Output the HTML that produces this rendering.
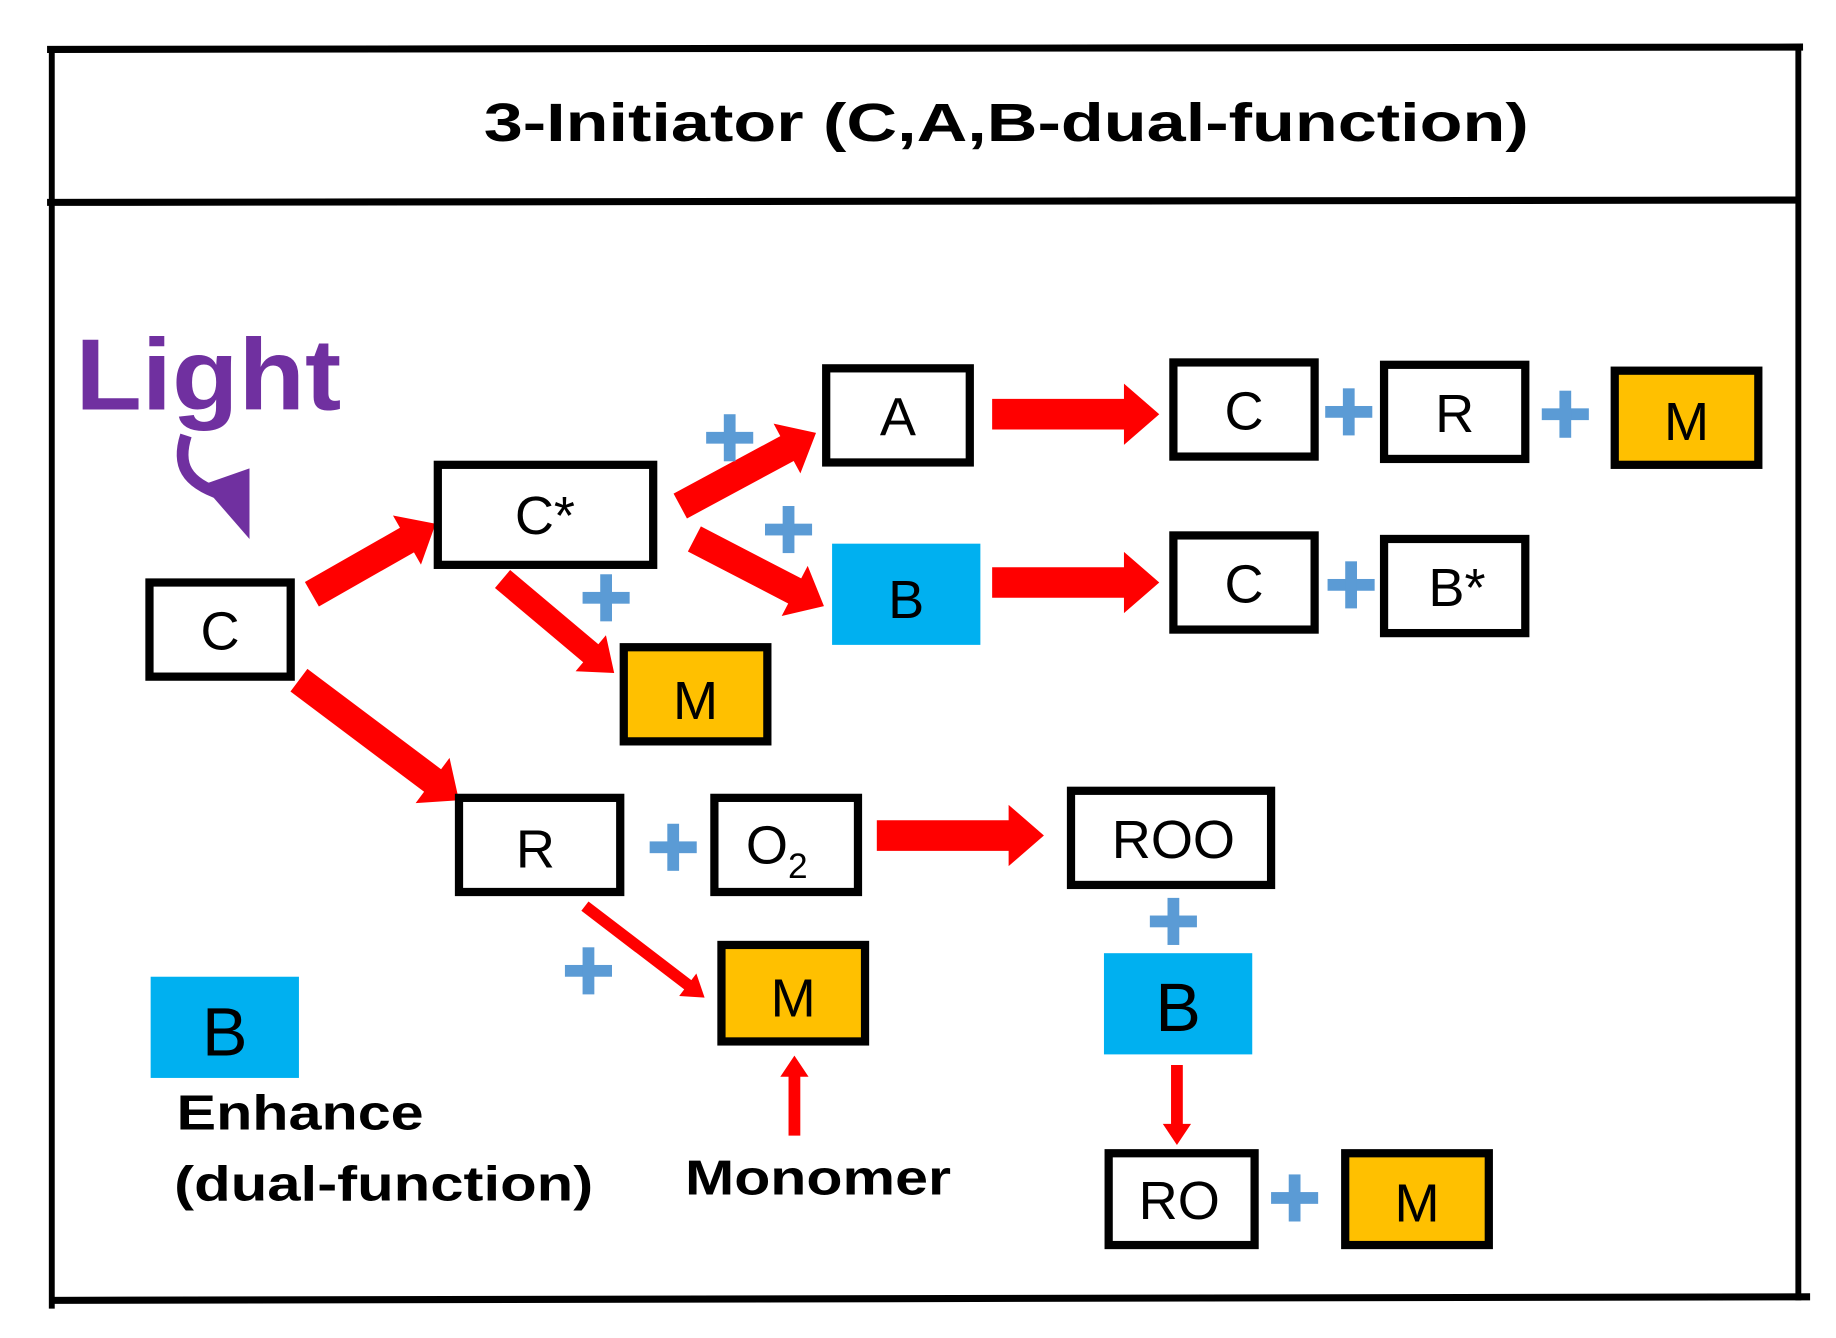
<!DOCTYPE html>
<html><head><meta charset="utf-8"><style>
html,body{margin:0;padding:0;background:#fff;}
svg{display:block;}
text{font-family:"Liberation Sans",sans-serif;}
</style></head><body>
<svg width="1836" height="1338" viewBox="0 0 1560 1137" preserveAspectRatio="none" xmlns="http://www.w3.org/2000/svg">
<defs>
<g id="plus"><rect x="-20" y="-5" width="40" height="10" fill="#5b9bd5"/><rect x="-5" y="-20" width="10" height="40" fill="#5b9bd5"/></g>
</defs>
<g stroke="#000" fill="none">
<line x1="40" y1="42" x2="1532" y2="40" stroke-width="6"/>
<line x1="40" y1="172" x2="1530" y2="170" stroke-width="6"/>
<line x1="44" y1="40" x2="44" y2="1112" stroke-width="5"/>
<line x1="1528" y1="40" x2="1528" y2="1105" stroke-width="5"/>
<line x1="42" y1="1105" x2="1538" y2="1102" stroke-width="6"/>
</g>
<text x="855" y="120" font-size="46" font-weight="bold" text-anchor="middle" textLength="888" lengthAdjust="spacingAndGlyphs">3-Initiator (C,A,B-dual-function)</text>
<text x="64" y="348" font-size="86" font-weight="bold" fill="#7030a0" textLength="226" lengthAdjust="spacingAndGlyphs">Light</text>
<path d="M158 370 C150 395,158 410,188 420" stroke="#7030a0" stroke-width="10" fill="none"/>
<polygon points="172,412 212,398 212,458" fill="#7030a0"/>
<g fill="#f00">
<g transform="translate(843,352)"><polygon points="0,-13 112,-13 112,-26 142,0 112,26 112,13 0,13"/></g>
<g transform="translate(843,495)"><polygon points="0,-13 112,-13 112,-26 142,0 112,26 112,13 0,13"/></g>
<g transform="translate(745,710)"><polygon points="0,-13 112,-13 112,-26 142,0 112,26 112,13 0,13"/></g>
<g transform="translate(265,505) rotate(-29.7)"><polygon points="0,-12 93,-12 93,-24 121,0 93,24 93,12 0,12"/></g>
<g transform="translate(578,430) rotate(-28.3)"><polygon points="0,-12 103,-12 103,-24 131,0 103,24 103,12 0,12"/></g>
<g transform="translate(590,458) rotate(27.4)"><polygon points="0,-12 96,-12 96,-24 124,0 96,24 96,12 0,12"/></g>
<g transform="translate(427,492) rotate(40.1)"><polygon points="0,-10 98,-10 98,-20 124,0 98,20 98,10 0,10"/></g>
<g transform="translate(254,578) rotate(36.9)"><polygon points="0,-12 142,-12 142,-24 170,0 142,24 142,12 0,12"/></g>
<g transform="translate(497,770) rotate(37.4)"><polygon points="0,-5 110,-5 110,-12 128,0 110,12 110,5 0,5"/></g>
<g transform="translate(675,965) rotate(-90)"><polygon points="0,-5 50,-5 50,-12 68,0 50,12 50,5 0,5"/></g>
<g transform="translate(1000,905) rotate(90)"><polygon points="0,-5 50,-5 50,-12 68,0 50,12 50,5 0,5"/></g>
</g>
<g stroke="#000" stroke-width="7" fill="#fff">
<rect x="127" y="495" width="120" height="80"/>
<rect x="372" y="395" width="183" height="85"/>
<rect x="702" y="313" width="122" height="80"/>
<rect x="997" y="308" width="120" height="80"/>
<rect x="1176" y="310" width="120" height="80"/>
<rect x="1372" y="315" width="122" height="80" fill="#ffc000"/>
<rect x="997" y="455" width="120" height="80"/>
<rect x="1176" y="458" width="120" height="80"/>
<rect x="530" y="550" width="122" height="80" fill="#ffc000"/>
<rect x="390" y="678" width="137" height="80"/>
<rect x="607" y="678" width="122" height="80"/>
<rect x="910" y="672" width="170" height="80"/>
<rect x="613" y="803" width="122" height="82" fill="#ffc000"/>
<rect x="942" y="980" width="124" height="78"/>
<rect x="1143" y="980" width="122" height="78" fill="#ffc000"/>
</g>
<g fill="#00b0f0">
<rect x="707" y="462" width="126" height="86"/>
<rect x="938" y="810" width="126" height="86"/>
<rect x="128" y="830" width="126" height="86"/>
</g>
<g font-size="46" text-anchor="middle" fill="#000">
<text x="187" y="552">C</text>
<text x="463" y="454">C*</text>
<text x="763" y="370">A</text>
<text x="1057" y="365">C</text>
<text x="1236" y="367">R</text>
<text x="1433" y="374">M</text>
<text x="770" y="525">B</text>
<text x="1057" y="512">C</text>
<text x="1238" y="515">B*</text>
<text x="591" y="611">M</text>
<text x="455" y="737">R</text>
<text x="660" y="734">O<tspan font-size="30" dy="12">2</tspan></text>
<text x="997" y="729">ROO</text>
<text x="674" y="864">M</text>
<text x="1001" y="876" font-size="58">B</text>
<text x="191" y="897" font-size="58">B</text>
<text x="1002" y="1036">RO</text>
<text x="1204" y="1038">M</text>
</g>
<text x="150" y="960" font-size="42" font-weight="bold" textLength="210" lengthAdjust="spacingAndGlyphs">Enhance</text>
<text x="148" y="1020" font-size="42" font-weight="bold" textLength="356" lengthAdjust="spacingAndGlyphs">(dual-function)</text>
<text x="582" y="1015" font-size="42" font-weight="bold" textLength="226" lengthAdjust="spacingAndGlyphs">Monomer</text>
<use href="#plus" x="620" y="372"/>
<use href="#plus" x="670" y="450"/>
<use href="#plus" x="515" y="508"/>
<use href="#plus" x="1146" y="350"/>
<use href="#plus" x="1330" y="352"/>
<use href="#plus" x="1148" y="497"/>
<use href="#plus" x="572" y="720"/>
<use href="#plus" x="500" y="825"/>
<use href="#plus" x="997" y="783"/>
<use href="#plus" x="1100" y="1018"/>
</svg>
</body></html>
